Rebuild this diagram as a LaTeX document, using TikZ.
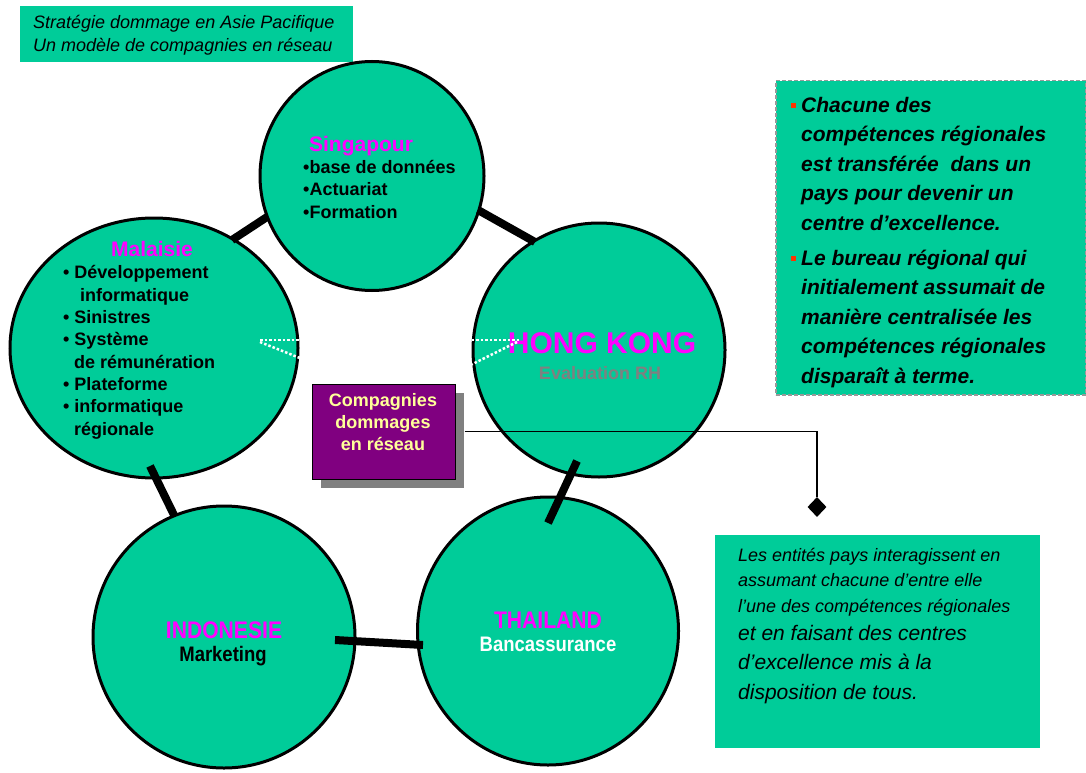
\documentclass[tikz,border=0pt]{standalone}
\usepackage{fontspec}
\setmainfont{Liberation Sans}
\newfontfamily\narrowfont[FakeStretch=0.88]{Liberation Sans}
\usetikzlibrary{shapes.geometric,shadows}
\definecolor{teal1}{HTML}{00CC99}
\definecolor{mag}{HTML}{FF00FF}
\definecolor{purp}{HTML}{800080}
\definecolor{paleyel}{HTML}{FFFF99}
\definecolor{grayt}{HTML}{808080}
\definecolor{bulletred}{HTML}{FF3300}
\definecolor{dashgray}{HTML}{999999}
\newcommand{\fsz}[2]{\fontsize{#1}{#2}\selectfont}
\newcommand{\sqbullet}{\llap{\textcolor{bulletred}{\rule[4pt]{5pt}{5pt}}\hspace{5pt}}}
\begin{document}
\begin{tikzpicture}[x=1pt,y=-1pt,
  country/.style={ellipse, draw=black, line width=3pt, fill=teal1, inner sep=0pt},
  link/.style={line width=8pt, black},
  whitedot/.style={white, line width=2.5pt, dash pattern=on 2.5pt off 2pt},
  lt/.style={inner sep=0pt, anchor=base west, align=left},
  ct/.style={inner sep=0pt, anchor=base, align=center},
  head/.style={ct, text=mag, font=\bfseries\fsz{21}{25}},
  item/.style={lt, font=\bfseries\fsz{18}{22.3}},
  panel/.style={fill=teal1, inner sep=0pt, anchor=north west}
]
\useasboundingbox (0,0) rectangle (1086,773);

% title (multi-line nodes are anchored at the baseline of their last line)
\node[panel, minimum width=333pt, minimum height=56pt] (titlebox) at (20,6) {};
\node[lt, font=\itshape\fsz{18}{23}] (title) at (33,52) {Stratégie dommage en Asie Pacifique\\Un modèle de compagnies en réseau};

% countries
\node[country, minimum width=224pt, minimum height=229pt] (sing) at (372,176) {};
\node[country, minimum width=288pt, minimum height=260pt] (mal) at (154,348) {};
\node[country, minimum width=252pt, minimum height=254pt] (hk) at (599,350) {};
\node[country, minimum width=262pt, minimum height=262pt] (indo) at (224,637) {};
\node[country, minimum width=261pt, minimum height=268pt] (thai) at (548,631) {};

% links between countries
\coordinate (ms1) at (232,240); \coordinate (ms2) at (267,217);
\coordinate (sh1) at (478,210); \coordinate (sh2) at (535,242);
\coordinate (ht1) at (577,461); \coordinate (ht2) at (548,523);
\coordinate (mi1) at (150,466); \coordinate (mi2) at (174,515);
\coordinate (it1) at (335,640); \coordinate (it2) at (423,645);
\draw[link] (ms1) -- (ms2);
\draw[link] (sh1) -- (sh2);
\draw[link] (ht1) -- (ht2);
\draw[link] (mi1) -- (mi2);
\draw[link] (it1) -- (it2);

% texts in circles
\node[head] (singT) at (361,151) {Singapour};
\node[item] (singL) at (303,218) {•base de données\\•Actuariat\\•Formation};

\node[head] (malT) at (152,256) {Malaisie};
\node[item] (malL) at (63,435) {• Développement\\\hspace*{17pt}informatique\\• Sinistres\\• Système\\\hspace*{11pt}de rémunération\\• Plateforme\\• informatique\\\hspace*{11pt}régionale};

\node[ct, text=mag, font=\bfseries\fsz{30}{34}] (hkT) at (602,353) {HONG KONG};
\node[ct, text=grayt, font=\bfseries\fsz{18}{22}] (hkL) at (600,379) {Evaluation RH};

\node[ct, text=mag, font=\narrowfont\bfseries\fsz{24}{28}] (indoT) at (224,638) {INDONESIE};
\node[ct, text=black, font=\narrowfont\bfseries\fsz{21}{25}] (indoL) at (223,661) {Marketing};

\node[ct, text=mag, font=\narrowfont\bfseries\fsz{24}{28}] (thaiT) at (548,628) {THAILAND};
\node[ct, text=white, font=\narrowfont\bfseries\fsz{21}{25}] (thaiL) at (548,651) {Bancassurance};

% white dotted lines
\coordinate (dl1) at (260,340); \coordinate (dr1) at (520,340);
\coordinate (dl2) at (260,342); \coordinate (dv) at (402,399); \coordinate (dr2) at (517,342);
\draw[whitedot] (dl1) -- (dr1);
\draw[whitedot] (dl2) -- (dv) -- (dr2);

% central box
\node[fill=purp, draw=black, line width=1pt, inner sep=0pt, minimum width=143pt, minimum height=95pt,
      drop shadow={shadow xshift=9pt, shadow yshift=-9pt, fill=grayt, opacity=1}] (comp) at (383.5,431.5) {};
\node[ct, text=paleyel, font=\bfseries\fsz{18}{22}] (compT) at (383,450) {Compagnies\\dommages\\en réseau};

% connector to note
\node[diamond, fill=black, inner sep=0pt, minimum width=19pt, minimum height=20pt] (dia) at (817,507) {};
\coordinate (compout) at ([xshift=9pt]comp.east);
\draw[line width=1.3pt] (compout) -| (dia.north);

% right panel 1
\node[panel, draw=dashgray, line width=1.5pt, dash pattern=on 4pt off 2pt, minimum width=310pt, minimum height=314pt] (notes) at (775,80) {};
\node[lt, font=\bfseries\itshape\fsz{21}{29.5}] (p1) at (801,230) {\sqbullet Chacune des\\compétences régionales\\est transférée\ \ dans un\\pays pour devenir un\\centre d’excellence.};
\node[lt, font=\bfseries\itshape\fsz{21}{29.5}] (p2) at (801,383) {\sqbullet Le bureau régional qui\\initialement assumait de\\manière centralisée les\\compétences régionales\\disparaît à terme.};

% right panel 2
\node[panel, minimum width=325pt, minimum height=213pt] (ent) at (715,535) {};
\node[lt, font=\itshape\fsz{18}{25.5}] (e1) at (738,612) {Les entités pays interagissent en\\assumant chacune d’entre elle\\l’une des compétences régionales};
\node[lt, font=\itshape\fsz{21}{29.5}] (e2) at (738,699) {et en faisant des centres\\d’excellence mis à la\\disposition de tous.};
\end{tikzpicture}
\end{document}
